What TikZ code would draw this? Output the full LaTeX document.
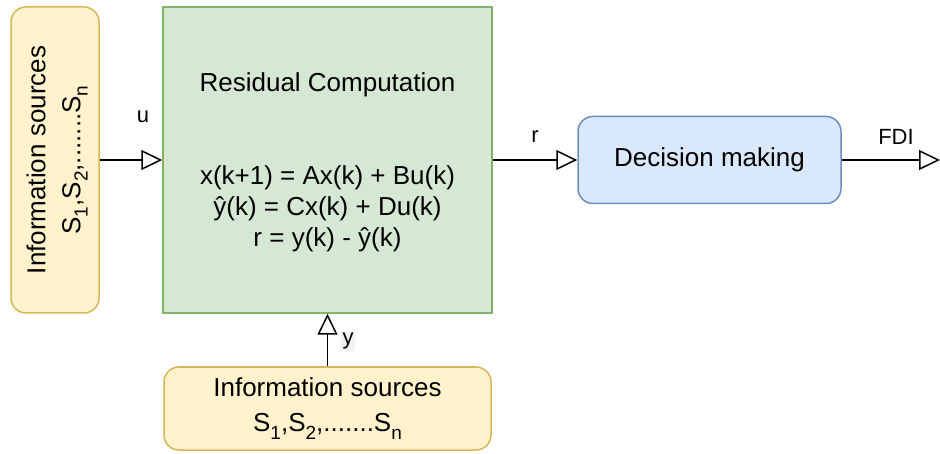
\documentclass[tikz,border=0pt]{standalone}
\usepackage{fontspec}
\setmainfont{Liberation Sans}
\usetikzlibrary{arrows.meta}
\definecolor{gfill}{HTML}{D5E8D4}
\definecolor{gline}{HTML}{82B366}
\definecolor{yfill}{HTML}{FFF2CC}
\definecolor{yline}{HTML}{D6B656}
\definecolor{bfill}{HTML}{DAE8FC}
\definecolor{bline}{HTML}{6C8EBF}
\definecolor{lblbg}{HTML}{F2F2F2}
\newcommand{\mysb}[1]{\raisebox{-0.28em}{\fontsize{19}{19}\selectfont #1}}
\begin{document}
\begin{tikzpicture}[x=1pt,y=-1pt,
  bigtext/.style={font=\fontsize{26}{31}\selectfont},
  lbltext/.style={font=\fontsize{22}{26}\selectfont},
  ybox/.style={draw=yline,fill=yfill,line width=1.5pt,rounded corners=15pt,inner sep=0pt},
  gbox/.style={draw=gline,fill=gfill,line width=1.5pt,inner sep=0pt},
  bbox/.style={draw=bline,fill=bfill,line width=1.5pt,rounded corners=15pt,inner sep=0pt},
  arr/.style={line width=1.5pt,-{Triangle[open,length=21pt,width=20pt,line width=1.5pt]}}
]
\useasboundingbox (0,0) rectangle (940,454);
% boxes
\node[ybox,minimum width=88pt,minimum height=306pt] (src1) at (55,160) {};
\node[bigtext,rotate=90,align=center] (src1t) at (57,160) {Information sources\\[4pt]S\mysb{1},S\mysb{2},.......S\mysb{n}};
\node[gbox,minimum width=329pt,minimum height=306pt] (res) at (327.5,160) {};
\node[bigtext] (restitle) at (327.5,85) {Residual Computation};
\node[bigtext,align=center] (eqs) at (327.5,209) {x(k+1) = Ax(k) + Bu(k)\\ŷ(k) = Cx(k) + Du(k)\\r = y(k) - ŷ(k)};
\node[ybox,bigtext,align=center,minimum width=327pt,minimum height=83pt] (src2) at (327.5,408.5) {Information sources\\[4pt]S\mysb{1},S\mysb{2},.......S\mysb{n}};
\node[bbox,bigtext,minimum width=263pt,minimum height=87pt] (dec) at (709.5,160) {Decision making};
\coordinate (out) at (940,160);
% connectors
\draw[arr] (src1) -- (res);
\draw[arr] (res) -- (dec);
\draw[arr] (dec) -- (out);
\draw[arr] (src2) -- (res);
% labels
\node[lbltext] (lu) at (143,117) {u};
\node[lbltext] (lr) at (535,137) {r};
\node[lbltext] (lfdi) at (896,137) {FDI};
\node[lbltext,fill=lblbg,inner sep=1.5pt] (ly) at (348,341) {y};
\end{tikzpicture}
\end{document}
